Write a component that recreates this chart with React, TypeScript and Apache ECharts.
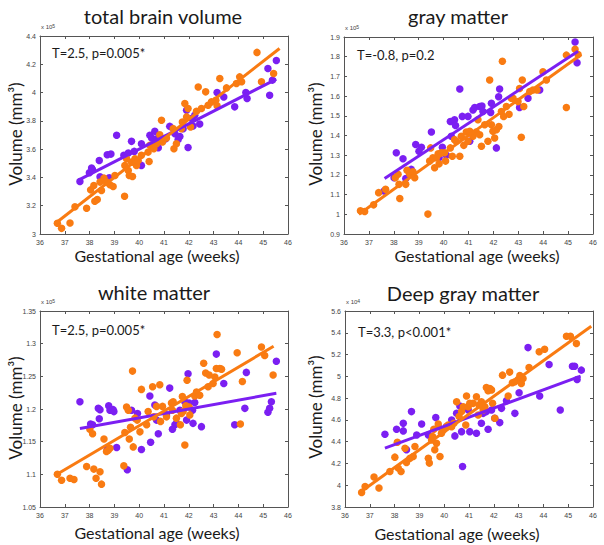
import React, { useEffect, useRef } from "react";
import * as echarts from "echarts";

// ---------- data (gestational age in weeks, volume in axis units) ----------
const panelTitles = ["total brain volume", "gray matter", "white matter", "Deep gray matter"];
const panelStats = ["T=2.5, p=0.005*", "T=-0.8, p=0.2", "T=2.5, p=0.005*", "T=3.3, p<0.001*"];
const panelExponents = ["5", "5", "5", "4"];
const xRange = [36, 46, 1];
const yRanges = [
  [3, 4.4, 0.2],
  [0.9, 1.9, 0.1],
  [1.05, 1.35, 0.05],
  [3.8, 5.6, 0.2],
];

const tbvPurple = [
  [37.61, 3.371], [37.99, 3.433], [38.08, 3.466], [38.12, 3.454], [38.39, 3.52], [38.42, 3.404],
  [38.79, 3.397], [38.71, 3.56], [38.86, 3.565], [39.09, 3.698], [39.38, 3.556], [39.56, 3.572],
  [39.69, 3.655], [39.8, 3.584], [40.09, 3.485], [40.09, 3.638], [40.43, 3.698], [40.5, 3.679],
  [40.63, 3.726], [40.7, 3.674], [40.77, 3.61], [41.07, 3.674], [41.23, 3.761], [41.44, 3.709],
  [41.57, 3.669], [41.64, 3.69], [41.77, 3.745], [41.97, 3.612], [41.91, 3.875], [42.11, 3.816],
  [42.24, 3.839], [42.44, 3.778], [42.17, 3.764], [43.14, 4.0], [43.41, 3.969], [43.85, 3.899],
  [44.3, 4.0], [44.35, 3.958], [45.19, 4.17], [45.26, 3.981], [45.53, 4.227], [45.37, 4.088],
];
const tbvOrange = [
  [36.7, 3.076], [36.87, 3.04], [37.21, 3.078], [37.41, 3.192], [37.88, 3.182], [38.04, 3.312],
  [38.17, 3.343], [38.21, 3.232], [38.31, 3.244], [38.42, 3.367], [38.48, 3.307], [38.58, 3.395],
  [38.68, 3.367], [38.82, 3.348], [38.95, 3.336], [39.02, 3.414], [39.41, 3.267], [39.42, 3.485],
  [39.49, 3.532], [39.56, 3.449], [39.6, 3.414], [39.69, 3.508], [39.73, 3.407], [39.83, 3.532],
  [39.89, 3.485], [39.96, 3.52], [40.09, 3.556], [40.36, 3.579], [40.4, 3.513], [40.43, 3.627],
  [40.59, 3.603], [40.7, 3.638], [40.83, 3.702], [40.9, 3.804], [40.94, 3.65], [41.1, 3.679],
  [41.37, 3.745], [41.4, 3.603], [41.5, 3.638], [41.7, 3.745], [41.74, 3.792], [41.84, 3.922],
  [41.97, 3.887], [41.91, 3.828], [42.07, 3.757], [42.31, 3.868], [42.38, 4.04], [42.51, 3.887],
  [42.68, 4.005], [42.78, 3.91], [42.91, 3.934], [43.09, 3.946], [43.14, 3.906], [43.25, 4.1],
  [43.52, 4.033], [43.92, 4.064], [44.05, 4.111], [44.13, 4.076], [44.75, 4.284], [44.93, 4.076],
  [45.42, 4.135],
];
const tbvPurpleFit = [[37.57, 3.383], [45.53, 4.095]];
const tbvOrangeFit = [[36.64, 3.078], [45.66, 4.312]];

const gmPurple = [
  [37.61, 1.118], [38.01, 1.186], [38.1, 1.312], [38.37, 1.282], [38.48, 1.182], [38.7, 1.228],
  [38.88, 1.354], [39.01, 1.32], [39.11, 1.34], [39.51, 1.418], [39.82, 1.287], [39.95, 1.34],
  [40.11, 1.3], [40.27, 1.471], [40.31, 1.396], [40.44, 1.48], [40.48, 1.451], [40.65, 1.636],
  [40.75, 1.497], [40.98, 1.497], [41.05, 1.371], [41.18, 1.53], [41.25, 1.542], [41.45, 1.547],
  [41.54, 1.55], [41.58, 1.522], [41.89, 1.517], [41.92, 1.564], [42.12, 1.337], [42.21, 1.597],
  [42.25, 1.636], [43.05, 1.542], [43.39, 1.589], [43.86, 1.631], [45.28, 1.875], [45.36, 1.769],
];
const gmOrange = [
  [36.66, 1.018], [36.83, 1.014], [37.19, 1.048], [37.39, 1.11], [37.67, 1.127], [38.06, 1.186],
  [38.17, 1.203], [38.24, 1.08], [38.21, 1.152], [38.48, 1.152], [38.53, 1.224], [38.64, 1.203],
  [38.77, 1.216], [38.84, 1.186], [39.37, 1.001], [39.44, 1.27], [39.48, 1.337], [39.57, 1.287],
  [39.64, 1.236], [39.71, 1.287], [39.78, 1.307], [39.82, 1.256], [39.91, 1.312], [40.04, 1.312],
  [40.08, 1.27], [40.27, 1.337], [40.35, 1.295], [40.44, 1.379], [40.51, 1.371], [40.65, 1.295],
  [40.71, 1.396], [40.81, 1.35], [40.91, 1.418], [40.98, 1.371], [41.05, 1.421], [41.18, 1.396],
  [41.31, 1.418], [41.38, 1.48], [41.45, 1.404], [41.52, 1.345], [41.65, 1.455], [41.78, 1.371],
  [41.85, 1.682], [41.92, 1.455], [41.98, 1.421], [42.05, 1.387], [42.12, 1.429], [42.22, 1.446],
  [42.32, 1.522], [42.36, 1.777], [42.41, 1.497], [42.52, 1.547], [42.63, 1.508], [42.72, 1.589],
  [42.79, 1.589], [42.99, 1.572], [43.05, 1.639], [43.12, 1.391], [43.16, 1.682], [43.22, 1.547],
  [43.46, 1.623], [43.59, 1.631], [43.75, 1.631], [43.99, 1.724], [44.13, 1.682], [44.93, 1.542],
  [44.93, 1.808], [45.28, 1.838], [45.4, 1.811],
];
const gmPurpleFit = [[37.63, 1.182], [45.4, 1.828]];
const gmOrangeFit = [[36.6, 1.0], [45.53, 1.811]];

const wmPurple = [
  [37.61, 1.211], [38.04, 1.177], [38.12, 1.176], [38.35, 1.201], [38.42, 1.199], [38.39, 1.185],
  [38.77, 1.205], [38.82, 1.198], [38.95, 1.199], [38.98, 1.196], [38.71, 1.138], [39.09, 1.141],
  [39.52, 1.107], [39.69, 1.198], [39.93, 1.193], [40.09, 1.138], [40.43, 1.22], [40.46, 1.149],
  [40.63, 1.206], [40.7, 1.183], [40.77, 1.162], [41.1, 1.191], [41.23, 1.232], [41.34, 1.169],
  [41.44, 1.176], [41.5, 1.178], [41.64, 1.198], [41.84, 1.211], [41.91, 1.183], [41.97, 1.254],
  [42.01, 1.209], [42.15, 1.198], [42.17, 1.178], [42.24, 1.21], [42.51, 1.173], [43.11, 1.284],
  [43.41, 1.239], [43.85, 1.176], [44.26, 1.201], [44.32, 1.256], [45.19, 1.195], [45.26, 1.201],
  [45.33, 1.211], [45.53, 1.273],
];
const wmOrange = [
  [36.7, 1.1], [36.87, 1.091], [37.21, 1.094], [37.37, 1.092], [37.88, 1.112], [38.01, 1.169],
  [38.12, 1.162], [38.17, 1.108], [38.26, 1.094], [38.42, 1.104], [38.48, 1.085], [38.58, 1.154],
  [38.68, 1.135], [38.75, 1.137], [38.82, 1.14], [39.38, 1.113], [39.42, 1.164], [39.49, 1.203],
  [39.56, 1.198], [39.6, 1.154], [39.65, 1.172], [39.73, 1.258], [39.76, 1.142], [39.83, 1.186],
  [39.92, 1.183], [40.03, 1.165], [40.09, 1.23], [40.3, 1.176], [40.36, 1.196], [40.54, 1.234],
  [40.59, 1.188], [40.7, 1.204], [40.83, 1.237], [40.86, 1.181], [40.94, 1.204], [41.1, 1.188],
  [41.3, 1.209], [41.34, 1.198], [41.37, 1.211], [41.5, 1.186], [41.66, 1.176], [41.7, 1.193],
  [41.74, 1.219], [41.77, 1.196], [41.84, 1.145], [41.88, 1.205], [41.93, 1.244], [42.01, 1.203],
  [42.04, 1.191], [42.24, 1.22], [42.31, 1.226], [42.44, 1.221], [42.6, 1.27], [42.68, 1.255],
  [42.78, 1.234], [42.82, 1.252], [42.98, 1.239], [43.05, 1.249], [43.11, 1.262], [43.14, 1.314],
  [43.25, 1.262], [43.32, 1.261], [43.95, 1.286], [44.08, 1.177], [44.16, 1.242], [44.93, 1.295],
  [45.06, 1.282], [45.4, 1.252],
];
const wmPurpleFit = [[37.61, 1.17], [45.53, 1.224]];
const wmOrangeFit = [[36.72, 1.101], [45.42, 1.296]];

const dgmPurple = [
  [37.61, 4.468], [38.08, 4.514], [38.35, 4.569], [38.35, 4.499], [38.48, 4.325], [38.68, 4.676],
  [38.89, 4.462], [39.09, 4.563], [39.36, 4.462], [39.66, 4.621], [39.76, 4.538], [40.09, 4.538],
  [40.3, 4.599], [40.43, 4.453], [40.5, 4.66], [40.63, 4.727], [40.74, 4.172], [40.7, 4.492],
  [40.97, 4.691], [41.03, 4.492], [41.3, 4.477], [41.5, 4.569], [41.57, 4.66], [41.7, 4.676],
  [41.77, 4.514], [41.91, 4.691], [42.04, 4.615], [42.24, 4.575], [42.31, 4.706], [42.51, 4.776],
  [42.85, 4.66], [43.02, 4.849], [43.38, 5.264], [43.85, 4.819], [44.23, 5.109], [44.68, 4.691],
  [45.17, 5.093], [45.26, 5.093], [45.36, 4.971], [45.53, 5.057],
];
const dgmOrange = [
  [36.67, 3.934], [36.81, 3.989], [37.17, 4.075], [37.37, 3.974], [37.81, 4.126], [38.01, 4.258],
  [38.11, 4.395], [38.15, 4.157], [38.26, 4.126], [38.42, 4.34], [38.48, 4.209], [38.62, 4.248],
  [38.75, 4.264], [38.82, 4.355], [39.36, 4.248], [39.4, 4.203], [39.49, 4.416], [39.53, 4.447],
  [39.58, 4.514], [39.62, 4.325], [39.69, 4.386], [39.76, 4.563], [39.83, 4.264], [39.89, 4.477],
  [39.96, 4.508], [40.09, 4.538], [40.16, 4.553], [40.3, 4.538], [40.39, 4.569], [40.5, 4.767],
  [40.6, 4.63], [40.7, 4.676], [40.77, 4.721], [40.87, 4.553], [40.9, 4.819], [40.97, 4.721],
  [41.03, 4.752], [41.17, 4.752], [41.3, 4.813], [41.37, 4.645], [41.41, 4.737], [41.5, 4.767],
  [41.57, 4.691], [41.64, 4.721], [41.7, 4.898], [41.77, 4.868], [41.84, 4.889], [41.91, 4.874],
  [41.95, 4.752], [42.04, 4.615], [42.35, 5.011], [42.58, 4.819], [42.64, 5.039], [42.75, 4.941],
  [42.85, 4.95], [42.98, 4.971], [43.05, 5.008], [43.11, 4.935], [43.18, 4.981], [43.42, 5.081],
  [43.83, 5.225], [44.05, 5.249], [44.93, 5.368], [45.09, 5.368], [45.33, 5.301],
];
const dgmPurpleFit = [[37.61, 4.34], [45.5, 5.002]];
const dgmOrangeFit = [[36.6, 3.934], [45.93, 5.46]];

const purpleSets = [tbvPurple, gmPurple, wmPurple, dgmPurple];
const orangeSets = [tbvOrange, gmOrange, wmOrange, dgmOrange];
const purpleFits = [tbvPurpleFit, gmPurpleFit, wmPurpleFit, dgmPurpleFit];
const orangeFits = [tbvOrangeFit, gmOrangeFit, wmOrangeFit, dgmOrangeFit];

// ---------- styling / layout ----------
const PURPLE = "#7B1FF2";
const ORANGE = "#F97B12";
const LABEL_FONT = "Lato, 'Open Sans', sans-serif";
const TICK_FONT = "'Liberation Sans', Arial, sans-serif";

const grids = [
  { left: 40, top: 36, width: 248, height: 198 },
  { left: 344, top: 37, width: 249, height: 197 },
  { left: 40, top: 311, width: 248, height: 196 },
  { left: 345, top: 311, width: 248, height: 196 },
];
const titlePos = [[163, 16], [458, 16], [154, 292], [463, 293]];
const xLabelPos = [[157, 255], [477, 255], [157, 532], [457, 533]];
const yLabelPos = [[15, 134], [315, 134], [15, 408], [315, 407]];
const statPos = [[52, 53], [357, 55], [52, 330], [358, 332]];

function buildOption() {
  const xAxes: any[] = [];
  const yAxes: any[] = [];
  const series: any[] = [];
  const graphic: any[] = [];
  const axisLine = { show: true, lineStyle: { color: "#555", width: 1 } };
  const tick = { show: true, inside: true, length: 3, lineStyle: { color: "#555" } };
  const lbl = { fontSize: 7, color: "#444", fontFamily: TICK_FONT };

  grids.forEach((g, i) => {
    const [ymin, ymax, ystep] = yRanges[i];
    const common = { type: "value", gridIndex: i, splitLine: { show: false } };
    xAxes.push({
      ...common, position: "bottom", min: xRange[0], max: xRange[1], interval: xRange[2],
      axisLine, axisTick: tick, axisLabel: { ...lbl, margin: 5 },
    });
    xAxes.push({
      ...common, position: "top", min: xRange[0], max: xRange[1], interval: xRange[2],
      axisLine, axisTick: tick, axisLabel: { show: false },
    });
    yAxes.push({
      ...common, position: "left", min: ymin, max: ymax, interval: ystep,
      axisLine, axisTick: tick, axisLabel: { ...lbl, margin: 4 },
    });
    yAxes.push({
      ...common, position: "right", min: ymin, max: ymax, interval: ystep,
      axisLine, axisTick: tick, axisLabel: { show: false },
    });
    const xi = 2 * i;
    const yi = 2 * i;
    series.push({
      type: "scatter", xAxisIndex: xi, yAxisIndex: yi, data: purpleSets[i],
      symbolSize: 7.5, itemStyle: { color: PURPLE, opacity: 1 }, silent: true, z: 2,
    });
    series.push({
      type: "scatter", xAxisIndex: xi, yAxisIndex: yi, data: orangeSets[i],
      symbolSize: 7.5, itemStyle: { color: ORANGE, opacity: 1 }, silent: true, z: 3,
    });
    series.push({
      type: "line", xAxisIndex: xi, yAxisIndex: yi, data: purpleFits[i], showSymbol: false,
      lineStyle: { color: PURPLE, width: 3 }, silent: true, z: 4,
    });
    series.push({
      type: "line", xAxisIndex: xi, yAxisIndex: yi, data: orangeFits[i], showSymbol: false,
      lineStyle: { color: ORANGE, width: 3 }, silent: true, z: 5,
    });

    graphic.push({
      type: "text", x: titlePos[i][0], y: titlePos[i][1],
      style: { text: panelTitles[i], font: `20px ${LABEL_FONT}`, fill: "#1a1a1a", align: "center", verticalAlign: "middle" },
    });
    graphic.push({
      type: "text", x: xLabelPos[i][0], y: xLabelPos[i][1],
      style: { text: "Gestational age (weeks)", font: `16px ${LABEL_FONT}`, fill: "#1a1a1a", align: "center", verticalAlign: "middle" },
    });
    graphic.push({
      type: "text", x: yLabelPos[i][0], y: yLabelPos[i][1], rotation: Math.PI / 2,
      style: { text: "Volume (mm³)", font: `17px ${LABEL_FONT}`, fill: "#1a1a1a", align: "center", verticalAlign: "middle" },
    });
    graphic.push({
      type: "text", x: statPos[i][0], y: statPos[i][1],
      style: { text: panelStats[i], font: `13px ${LABEL_FONT}`, fill: "#1a1a1a", align: "left", verticalAlign: "middle" },
    });
    graphic.push({
      type: "text", x: g.left + 1, y: g.top - 5,
      style: {
        text: `x 10{s|${panelExponents[i]}}`, font: `6px ${TICK_FONT}`, fill: "#444",
        align: "left", verticalAlign: "bottom",
        rich: { s: { fontSize: 5, fontFamily: TICK_FONT, fill: "#444", verticalAlign: "top", padding: [0, 0, 3, 0] } },
      },
    });
  });

  return {
    animation: false,
    backgroundColor: "#fff",
    grid: grids.map((g) => ({ ...g, containLabel: false })),
    xAxis: xAxes,
    yAxis: yAxes,
    series,
    graphic,
  };
}

export default function App() {
  const ref = useRef<HTMLDivElement>(null);
  useEffect(() => {
    if (!ref.current) return;
    const chart = echarts.init(ref.current, undefined, { renderer: "svg" });
    chart.setOption(buildOption() as any);
    return () => chart.dispose();
  }, []);
  return (
    <div
      ref={ref}
      style={{ position: "fixed", left: 0, top: 0, width: 604, height: 545, background: "#fff" }}
    />
  );
}
